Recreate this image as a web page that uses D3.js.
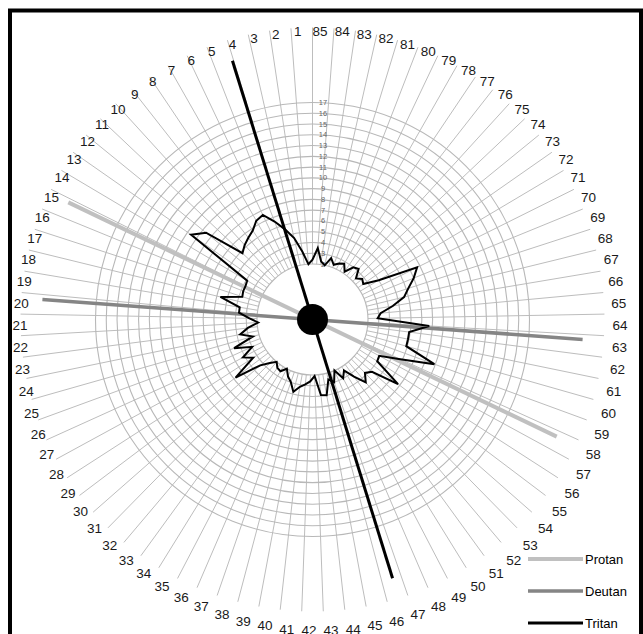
<!DOCTYPE html>
<html><head><meta charset="utf-8">
<script src="https://cdn.jsdelivr.net/npm/d3@7"></script>
<style>body{margin:0;background:#fff} svg{display:block}</style>
</head><body>
<svg id="c" width="643" height="634"></svg>
<script>
// ---- data ----
const caps = d3.range(1, 86);
const errorScores = [
 2.0,3.2,4.6,5.6,6.6,7.6,7.4,6.8,6.5,6.2,
 5.8,9.6,10.6,3.9,3.8,3.8,3.7,5.65,3.7,3.7,
 2.7,1.9,2.9,3.7,2.6,4.6,3.0,4.2,3.4,5.8,
 3.3,2.5,2.0,2.4,2.5,2.0,2.6,3.0,3.8,3.2,
 2.9,2.6,2.1,3.9,4.0,2.6,3.0,2.0,3.0,2.4,
 3.4,4.5,3.8,4.2,6.8,4.0,3.9,5.8,8.9,5.9,
 5.9,5.9,7.7,2.9,3.2,4.4,5.6,6.2,7.0,7.7,
 4.0,2.6,2.8,2.4,3.2,3.0,2.2,2.8,2.6,2.3,
 2.8,2.0,2.3,3.5,2.4];
const ringTicks = d3.range(2, 18);
const axisNames = ["Protan", "Deutan", "Tritan"];
const axisCaps = [15.2, 20.25, 4.06];  // confusion-axis direction, in cap units
const axisExtent = 22.0;               // in error-score units

// ---- layout / style ----
const W = 643, H = 634, cx = 312.5, cy = 319.5;
const axisColors = {Protan: "#c0c0c0", Deutan: "#858585", Tritan: "#000"};
const axisWidths = {Protan: 4, Deutan: 3.5, Tritan: 3};

const svg = d3.select("#c");
const g = svg.append("g").attr("transform", `translate(${cx},${cy})`);

const ang = d3.scaleLinear().domain([0, 85]).range([0, -2 * Math.PI]);
const r = d3.scaleLinear().domain([2, 17]).range([55.5, 217]);
const outerR = 292;

const pt = (a, rad) => [rad * Math.sin(a), -rad * Math.cos(a)];

// spokes
g.append("g").selectAll("line").data(caps).join("line")
  .attr("x1", d => pt(ang(d), r(2))[0]).attr("y1", d => pt(ang(d), r(2))[1])
  .attr("x2", d => pt(ang(d), outerR)[0]).attr("y2", d => pt(ang(d), outerR)[1])
  .attr("stroke", "#bdbdbd").attr("stroke-width", 1);

// rings
g.append("g").selectAll("circle").data(ringTicks).join("circle")
  .attr("r", d => r(d)).attr("fill", "none")
  .attr("stroke", "#b8b8b8").attr("stroke-width", 1.1);

// ring labels
g.append("g").selectAll("text").data(ringTicks).join("text")
  .attr("x", 10.5).attr("y", d => -r(d))
  .attr("text-anchor", "middle").attr("dominant-baseline", "central")
  .attr("font-family", "Liberation Sans, Arial, sans-serif").attr("font-size", 7.5)
  .attr("fill", "#666").text(d => d);

// category labels
g.append("g").selectAll("text").data(caps).join("text")
  .attr("x", d => pt(ang(d), 300)[0] + 7.5)
  .attr("y", d => pt(ang(d), 300)[1] + 11.5)
  .attr("text-anchor", "middle").attr("dominant-baseline", "central")
  .attr("font-family", "Liberation Sans, Arial, sans-serif").attr("font-size", 13.5)
  .attr("fill", "#1a1a1a").text(d => d);

// confusion axes
axisNames.forEach((n, i) => {
  const a = ang(axisCaps[i]);
  const p1 = pt(a, r(axisExtent)), p2 = pt(a + Math.PI, r(axisExtent));
  g.append("line").attr("x1", p1[0]).attr("y1", p1[1]).attr("x2", p2[0]).attr("y2", p2[1])
    .attr("stroke", axisColors[n]).attr("stroke-width", axisWidths[n]);
});

// error score polygon
const radial = d3.lineRadial().curve(d3.curveLinearClosed)
  .angle((d, i) => ang(caps[i])).radius(d => r(d));
g.append("path").datum(errorScores).attr("d", radial)
  .attr("fill", "none").attr("stroke", "#000").attr("stroke-width", 2).attr("stroke-linejoin", "miter");

// center dot
g.append("circle").attr("r", 15.5).attr("fill", "#000");

// legend
const lg = svg.append("g");
axisNames.forEach((n, i) => {
  const y = 559 + i * 32;
  lg.append("line").attr("x1", 528).attr("x2", 583).attr("y1", y).attr("y2", y)
    .attr("stroke", axisColors[n]).attr("stroke-width", axisWidths[n]);
  lg.append("text").attr("x", 585).attr("y", y).attr("dominant-baseline", "central")
    .attr("font-family", "Liberation Sans, Arial, sans-serif").attr("font-size", 13)
    .text(n);
});

// frame
svg.append("rect").attr("x", 10).attr("y", 10.5).attr("width", 631).attr("height", 640)
  .attr("fill", "none").attr("stroke", "#000").attr("stroke-width", 4);
</script>
</body></html>
